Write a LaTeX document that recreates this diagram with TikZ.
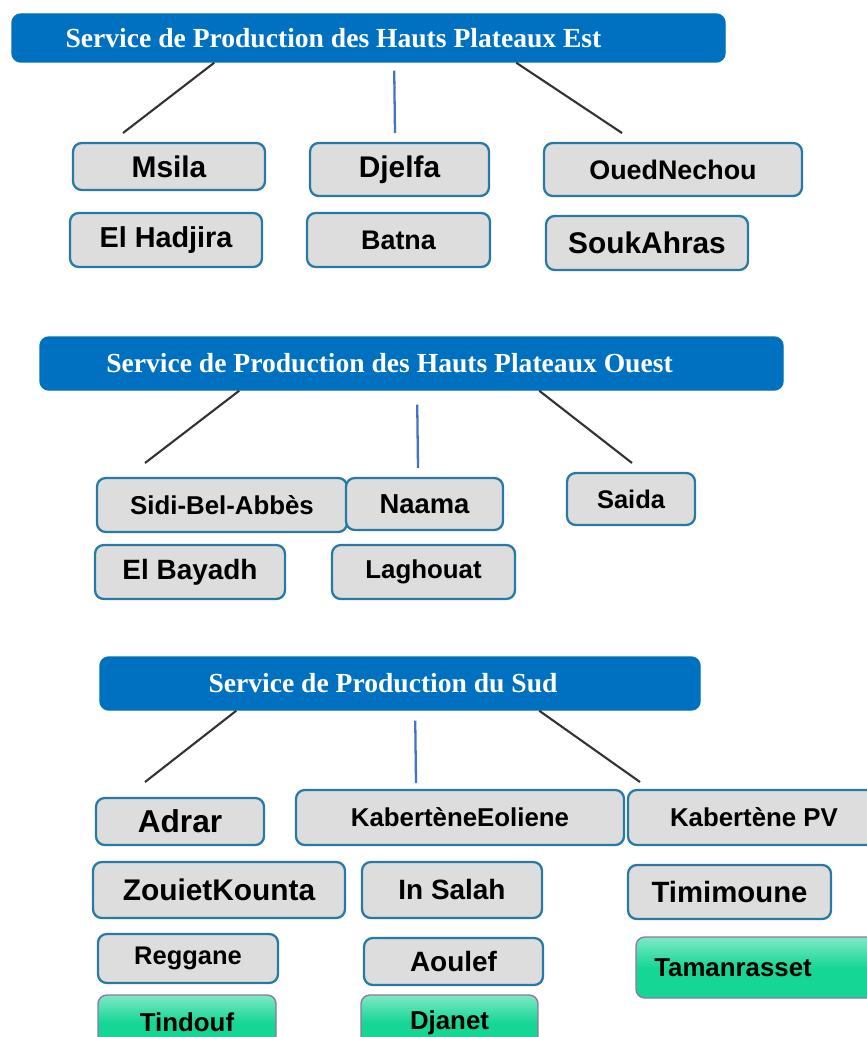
\documentclass[tikz,border=0pt]{standalone}
\usepackage{fontspec}
\setmainfont{Liberation Serif}
\setsansfont{Liberation Sans}
\usetikzlibrary{calc}
\definecolor{headblue}{RGB}{0,112,192}
\definecolor{celledge}{RGB}{38,122,165}
\definecolor{cellgray}{RGB}{221,221,221}
\definecolor{mint}{RGB}{22,214,150}
\definecolor{mintedge}{RGB}{140,120,165}
\definecolor{linkblue}{RGB}{68,114,196}
\tikzset{
  header/.style={rounded corners=5pt, fill=headblue, draw=headblue!85!teal, line width=0.8pt,
    text=white, font=\rmfamily\bfseries\fontsize{15.7}{16}\selectfont, inner sep=0pt},
  cell/.style={rounded corners=5pt, fill=cellgray, draw=celledge, line width=1.3pt, inner sep=0pt},
  mintcell/.style={cell, draw=mintedge, line width=0.8pt, top color=mint!55!white, bottom color=mint, middle color=mint},
  link/.style={line width=1.2pt, draw=black!80},
  midlink/.style={line width=1.3pt, draw=linkblue}
}

\begin{document}
\begin{tikzpicture}[x=0.02cm, y=-0.02cm]
  \useasboundingbox (0,0) rectangle (866,1037);
  \foreach \n/\xa/\ya/\xb/\yb/\pad/\t in {
    h1/12/14/725/62/1.4cm/Service de Production des Hauts Plateaux Est,
    h2/40/337/783/390/0.88cm/Service de Production des Hauts Plateaux Ouest,
    h3/100/657/700/710/0.68cm/Service de Production du Sud}
    \node[header, minimum width={(\xb-\xa)*0.02cm}, minimum height={(\yb-\ya)*0.02cm}] (\n) at ({(\xa+\xb)/2},{(\ya+\yb)/2}) {\t\hspace*{\pad}};
  \foreach \n/\xa/\ya/\xb/\yb/\fs/\t in {
    msila/73/143/265/190/17/Msila, djelfa/310/143/489/196/17/Djelfa, ouednechou/544/143/802/196/15.3/OuedNechou,
    elhadjira/70/213/262/267/16.4/El Hadjira, batna/307/213/490/267/15.3/Batna, soukahras/546/216/748/270/17/SoukAhras,
    sidibelabbes/97/478/347/532/14.7/Sidi-Bel-Abbès, naama/346/478/503/530/15.6/Naama, saida/567/473/695/525/14.5/Saida,
    elbayadh/95/545/285/599/15.9/El Bayadh, laghouat/332/545/515/599/14.7/Laghouat,
    adrar/96/798/264/845/18/Adrar, kabeolien/296/790/624/845/14.7/KabertèneEoliene, kabpv/628/790/880/845/14.7/Kabertène PV,
    zouiet/93/862/345/918/17/ZouietKounta, insalah/362/862/542/918/15.9/In Salah, timimoune/628/865/831/919/16.7/Timimoune,
    reggane/98/934/278/983/14.5/Reggane, aoulef/364/938/543/985/15.9/Aoulef}
    \node[cell, font=\sffamily\bfseries\fontsize{\fs}{\fs}\selectfont, minimum width={(\xb-\xa)*0.02cm}, minimum height={(\yb-\ya)*0.02cm}] (\n) at ({(\xa+\xb)/2},{(\ya+\yb)/2}) {\t};
  \foreach \n/\xa/\ya/\xb/\yb/\pad/\t in {
    tamanrasset/636/937/880/998/1.0cm/Tamanrasset, tindouf/98/995/276/1050/0cm/Tindouf, djanet/361/995/538/1050/0cm/Djanet}
    \node[mintcell, font=\sffamily\bfseries\fontsize{14.7}{15}\selectfont, minimum width={(\xb-\xa)*0.02cm}, minimum height={(\yb-\ya)*0.02cm}] (\n) at ({(\xa+\xb)/2},{(\ya+\yb)/2}) {\t\hspace*{\pad}};
  \foreach \c/\x/\y in {e1l/123/133, e1m/395/133, e1r/622/133, e2l/145/463, e2m/418/468, e2r/632/463, e3l/145/782, e3m/416/783, e3r/640/782}
    \coordinate (\c) at (\x,\y);
  \foreach \h/\e/\dx/\dy/\st in {
    h1/e1l/4.06cm/0cm/link, h1/e1m/7.66cm/-0.16cm/midlink, h1/e1r/10.1cm/0cm/link,
    h2/e2l/4.0cm/0cm/link, h2/e2m/7.56cm/-0.28cm/midlink, h2/e2r/10.0cm/0cm/link,
    h3/e3l/2.74cm/0cm/link, h3/e3m/6.32cm/-0.2cm/midlink, h3/e3r/8.8cm/0cm/link}
    \draw[\st] ([xshift=\dx, yshift=\dy]\h.south west) -- (\e);
\end{tikzpicture}
\end{document}
